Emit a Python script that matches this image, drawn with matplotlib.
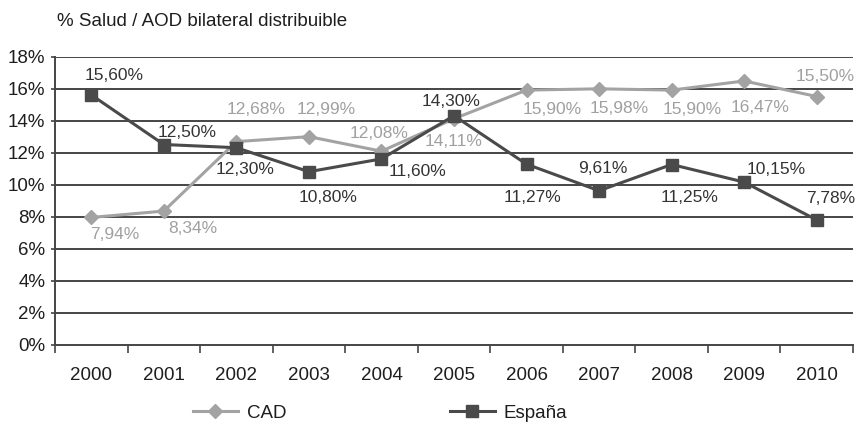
import matplotlib
matplotlib.use("Agg")
import matplotlib.pyplot as plt
from matplotlib.lines import Line2D
import numpy as np

plt.rcParams['font.family'] = ['Liberation Sans', 'DejaVu Sans']

years = ['2000', '2001', '2002', '2003', '2004', '2005', '2006', '2007', '2008', '2009', '2010']
cad = [7.94, 8.34, 12.68, 12.99, 12.08, 14.11, 15.90, 15.98, 15.90, 16.47, 15.50]
espana = [15.60, 12.50, 12.30, 10.80, 11.60, 14.30, 11.27, 9.61, 11.25, 10.15, 7.78]
yticks = [0, 2, 4, 6, 8, 10, 12, 14, 16, 18]

# label offsets in pixels (dx, dy up) relative to each point
cad_off = [(23, -17), (29, -17), (20, 32), (17, 27), (-2, 18), (0, -23),
           (26, -19), (20, -20), (21, -19), (16, -27), (8, 20)]
esp_off = [(23, 19), (23, 12), (9, -22), (19, -26), (36, -13), (-3, 14),
           (6, -33), (4, 22), (18, -33), (32, 13), (14, 22)]

W, H = 857, 430
fig = plt.figure(figsize=(W / 100, H / 100), dpi=100)
ax = fig.add_axes([55 / W, 1 - 344.5 / H, 798 / W, 288 / H])

c_cad = '#a3a3a3'
c_esp = '#4a4a4a'
grid_c = '#454545'
txt_c = '#1e1e1e'
fs = 13.5
fs_lab = 12.5

x = np.arange(len(years))
ax.set_xlim(-0.5, len(years) - 0.5)
ax.set_ylim(0, 18)

for yv in yticks[1:]:
    ax.axhline(yv, color=grid_c, lw=1.4, zorder=1)

ax.plot(x, cad, color=c_cad, lw=2.2, marker='D', ms=7.5, mfc=c_cad, mec=c_cad, zorder=3)
ax.plot(x, espana, color=c_esp, lw=2.2, marker='s', ms=8, mfc=c_esp, mec=c_esp, zorder=4)

k = 72 / 100
for i, v in enumerate(cad):
    dx, dy = cad_off[i]
    ax.annotate(f"{v:.2f}%".replace('.', ','), (x[i], v), xytext=(dx * k, dy * k),
                textcoords='offset points', ha='center', va='center',
                fontsize=fs_lab, color='#a0a0a0', zorder=5)
for i, v in enumerate(espana):
    dx, dy = esp_off[i]
    ax.annotate(f"{v:.2f}%".replace('.', ','), (x[i], v), xytext=(dx * k, dy * k),
                textcoords='offset points', ha='center', va='center',
                fontsize=fs_lab, color='#333333', zorder=5)

for s in ['top', 'right']:
    ax.spines[s].set_visible(False)
ax.spines['left'].set_color(grid_c)
ax.spines['left'].set_linewidth(1.4)
ax.spines['bottom'].set_color(grid_c)
ax.spines['bottom'].set_linewidth(1.4)

ax.set_yticks(yticks)
ax.set_yticklabels([f"{t}%" for t in yticks], fontsize=fs, color=txt_c)
ax.tick_params(axis='y', length=3, width=1.2, color=grid_c, pad=4)

ax.set_xticks(x)
ax.set_xticklabels(years, fontsize=fs, color=txt_c)
ax.tick_params(axis='x', which='major', length=0, pad=16)
ax.set_xticks(np.arange(-0.5, len(years)), minor=True)
ax.tick_params(axis='x', which='minor', length=6, width=1.2, color=grid_c, direction='out')

fig.text(57 / W, 1 - 21 / H, '% Salud / AOD bilateral distribuible', fontsize=fs,
         color=txt_c, ha='left', va='center')

handles = [
    Line2D([], [], color=c_cad, lw=2.2, marker='D', ms=7.5, mfc=c_cad, mec=c_cad),
    Line2D([], [], color=c_esp, lw=2.2, marker='s', ms=8, mfc=c_esp, mec=c_esp),
]
fig.legend(handles, ['CAD', 'España'], loc='center', ncol=2,
           bbox_to_anchor=(380 / W, 1 - 413 / H), frameon=False, fontsize=fs,
           handlelength=2.4, handletextpad=0.5, columnspacing=8.7,
           labelcolor=txt_c)

fig.savefig('out.png', dpi=100)
